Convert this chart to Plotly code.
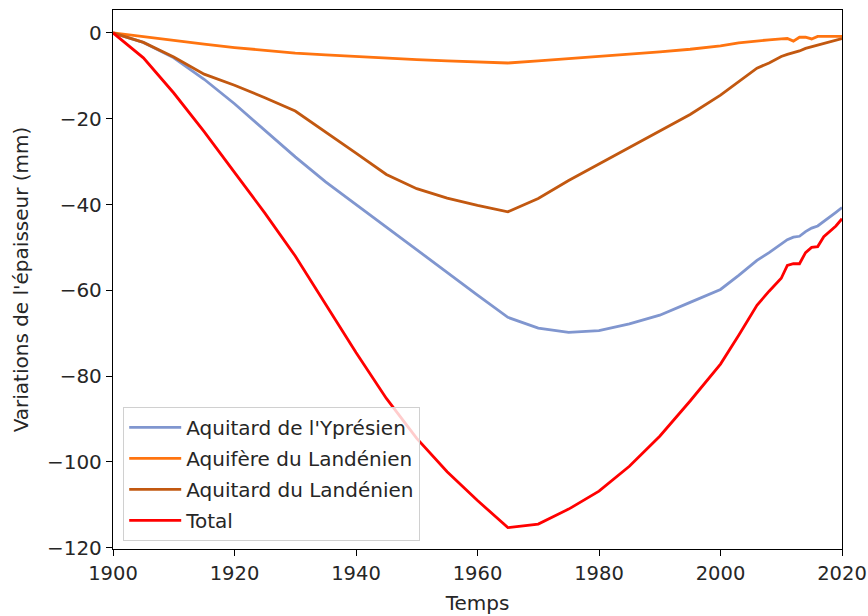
import plotly.graph_objects as go

years = [1900, 1905, 1910, 1915, 1920, 1925, 1930, 1935, 1940, 1945, 1950, 1955, 1960,
         1965, 1970, 1975, 1980, 1985, 1990, 1995, 2000, 2003, 2006, 2008, 2010, 2011,
         2012, 2013, 2014, 2015, 2016, 2017, 2018, 2019, 2020]

ypresien = [0, -2.2, -5.8, -10.8, -16.5, -22.6, -28.9, -34.7, -40.0, -45.4, -50.7, -55.9, -61.1,
            -66.3, -68.8, -69.8, -69.4, -67.8, -65.8, -62.8, -59.8, -56.5, -53.0, -51.2, -49.3, -48.2,
            -47.6, -47.4, -46.3, -45.5, -45.0, -44.0, -42.8, -41.8, -40.7]

aquifere_landenien = [0, -0.9, -1.8, -2.6, -3.4, -4.1, -4.7, -5.1, -5.5, -5.9, -6.2, -6.5, -6.8,
                      -7.0, -6.5, -6.0, -5.5, -5.0, -4.4, -3.8, -3.0, -2.3, -1.8, -1.6, -1.4, -1.3,
                      -1.9, -1.0, -1.0, -1.4, -0.8, -0.8, -0.8, -0.8, -0.8]

aquitard_landenien = [0, -2.2, -5.6, -9.6, -12.2, -15.1, -18.2, -23.0, -28.0, -33.0, -36.3, -38.5, -40.2,
                      -41.7, -38.6, -34.4, -30.6, -26.8, -22.8, -19.0, -14.5, -11.3, -8.2, -7.0, -5.5, -5.0,
                      -4.6, -4.2, -3.6, -3.2, -2.8, -2.4, -2.0, -1.6, -1.3]

total = [0, -5.8, -14.0, -23.0, -32.5, -42.0, -52.0, -63.2, -74.5, -85.2, -94.5, -102.3, -109.0,
         -115.3, -114.5, -111.0, -106.8, -101.0, -94.0, -85.8, -77.2, -70.5, -63.5, -60.2, -57.2, -54.2,
         -53.8, -53.8, -51.2, -50.0, -49.8, -47.5, -46.3, -45.0, -43.3]

series = [
    ("Aquitard de l'Yprésien", ypresien, "#8096cf"),
    ("Aquifère du Landénien", aquifere_landenien, "#ff7410"),
    ("Aquitard du Landénien", aquitard_landenien, "#c25810"),
    ("Total", total, "#ff0000"),
]

x_ticks = [1900, 1920, 1940, 1960, 1980, 2000, 2020]
y_ticks = [0, -20, -40, -60, -80, -100, -120]

fig = go.Figure()
for i, (name, vals, color) in enumerate(series):
    fig.add_trace(go.Scatter(x=years, y=vals, mode="lines", name=name,
                             legendgroup=f"g{i}",
                             line=dict(color=color, width=2.8)))

font = "DejaVu Sans, sans-serif"
fs = 20
fig.update_layout(
    width=868, height=616,
    margin=dict(l=113, r=26, t=10, b=67),
    paper_bgcolor="white", plot_bgcolor="white",
    font=dict(family=font, size=fs, color="#262626"),
    showlegend=True,
    legend=dict(x=0.014, y=0.015, xanchor="left", yanchor="bottom",
                bgcolor="rgba(255,255,255,0.8)", bordercolor="#d0d0d0", borderwidth=1,
                font=dict(family=font, size=fs, color="#262626"),
                traceorder="grouped", tracegroupgap=2, itemwidth=52),
    xaxis=dict(range=[1900, 2020], tickvals=x_ticks, ticks="outside", ticklen=6,
               tickcolor="black", showline=True, linecolor="black", linewidth=1.3,
               mirror=True, showgrid=False, zeroline=False, automargin=False,
               tickfont=dict(size=19.5),
               title=dict(text="Temps", standoff=12, font=dict(size=fs))),
    yaxis=dict(range=[-120.3, 5.35], tickvals=y_ticks, ticks="outside", ticklen=6,
               tickcolor="black", showline=True, linecolor="black", linewidth=1.3,
               mirror=True, showgrid=False, zeroline=False, automargin=False,
               tickfont=dict(size=fs),
               title=dict(text="Variations de l'épaisseur (mm)", standoff=12, font=dict(size=fs))),
)

fig.write_html("out.html", config={"displayModeBar": False},
               post_script="document.body.style.margin='0';document.body.style.overflow='hidden';")
